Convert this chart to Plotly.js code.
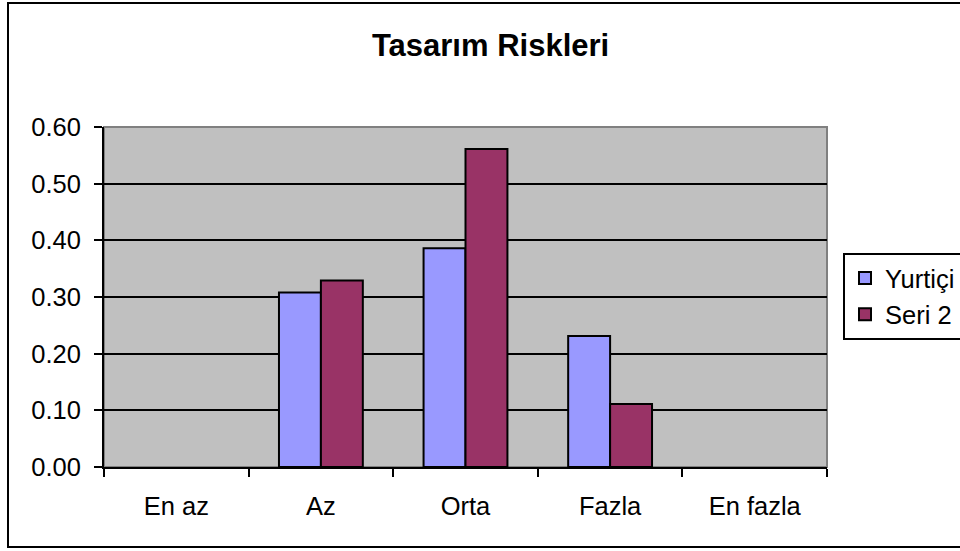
<!DOCTYPE html>
<html>
<head>
<meta charset="utf-8">
<script src="https://cdn.plot.ly/plotly-3.0.1.min.js"></script>
<style>html,body{margin:0;padding:0;background:#fff;}#chart{width:960px;height:551px;}</style>
</head>
<body>
<div id="chart"></div>
<script>
var categories = ["En az", "Az", "Orta", "Fazla", "En fazla"];
var yurtici = [null, 0.308, 0.386, 0.231, null];
var seri2 = [null, 0.329, 0.561, 0.111, null];
var seriesNames = ["Yurtiçi", "Seri 2"];
var yTickVals = [0, 0.1, 0.2, 0.3, 0.4, 0.5, 0.6];
var yTickText = ["0.00", "0.10", "0.20", "0.30", "0.40", "0.50", "0.60"];

var FONT = "Liberation Sans, Arial, sans-serif";

var traces = [
  {type: "bar", name: seriesNames[0], x: categories, y: yurtici,
   marker: {color: "#9999FF", line: {color: "#000", width: 2}}},
  {type: "bar", name: seriesNames[1], x: categories, y: seri2,
   marker: {color: "#993366", line: {color: "#000", width: 2}}}
];

var layout = {
  width: 960, height: 551,
  margin: {l: 104, r: 133, t: 127, b: 84, pad: 0},
  paper_bgcolor: "#fff",
  plot_bgcolor: "#C0C0C0",
  barmode: "group",
  bargap: 0.42,
  bargroupgap: 0,
  font: {family: FONT, color: "#000", size: 25.5},
  title: {text: "Tasarım Riskleri", font: {family: FONT, size: 31, weight: "bold", color: "#000"},
          xref: "container", x: 0.511, y: 1 - 45/551, yref: "container", xanchor: "center", yanchor: "middle"},
  xaxis: {
    type: "category", showgrid: false, showline: true, linecolor: "#000", linewidth: 2,
    ticks: "outside", tickson: "boundaries", ticklen: 8, tickwidth: 2, tickcolor: "#000",
    ticklabelstandoff: 15,
    tickfont: {family: FONT, size: 25.5, color: "#000"}, zeroline: false, fixedrange: true
  },
  yaxis: {
    range: [0, 0.6], tickvals: yTickVals, ticktext: yTickText,
    showgrid: true, gridcolor: "#000", gridwidth: 2,
    showline: true, linecolor: "#000", linewidth: 2,
    ticks: "outside", ticklen: 8, tickwidth: 2, tickcolor: "#000",
    ticklabelstandoff: 8,
    tickfont: {family: FONT, size: 25.5, color: "#000"}, zeroline: false, fixedrange: true
  },
  showlegend: true,
  legend: {
    xref: "container", yref: "container",
    x: 843 / 960, y: 1 - 253 / 551, xanchor: "left", yanchor: "top",
    bgcolor: "#fff", bordercolor: "#000", borderwidth: 2,
    font: {family: FONT, size: 25.5, color: "#000"},
    traceorder: "normal", itemwidth: 30
  },
  shapes: [
    {type: "rect", xref: "paper", yref: "paper", x0: 0, x1: 1, y0: 0, y1: 1,
     line: {color: "#808080", width: 2}, layer: "below"},
    {type: "rect", xref: "paper", yref: "paper",
     x0: (8 - 104) / 723, x1: (975 - 104) / 723, y0: (467 - 547) / 340, y1: (467 - 3) / 340,
     line: {color: "#000", width: 2}, fillcolor: "rgba(0,0,0,0)", layer: "above"}
  ]
};

Plotly.newPlot("chart", traces, layout, {staticPlot: true, displayModeBar: false});
</script>
</body>
</html>
